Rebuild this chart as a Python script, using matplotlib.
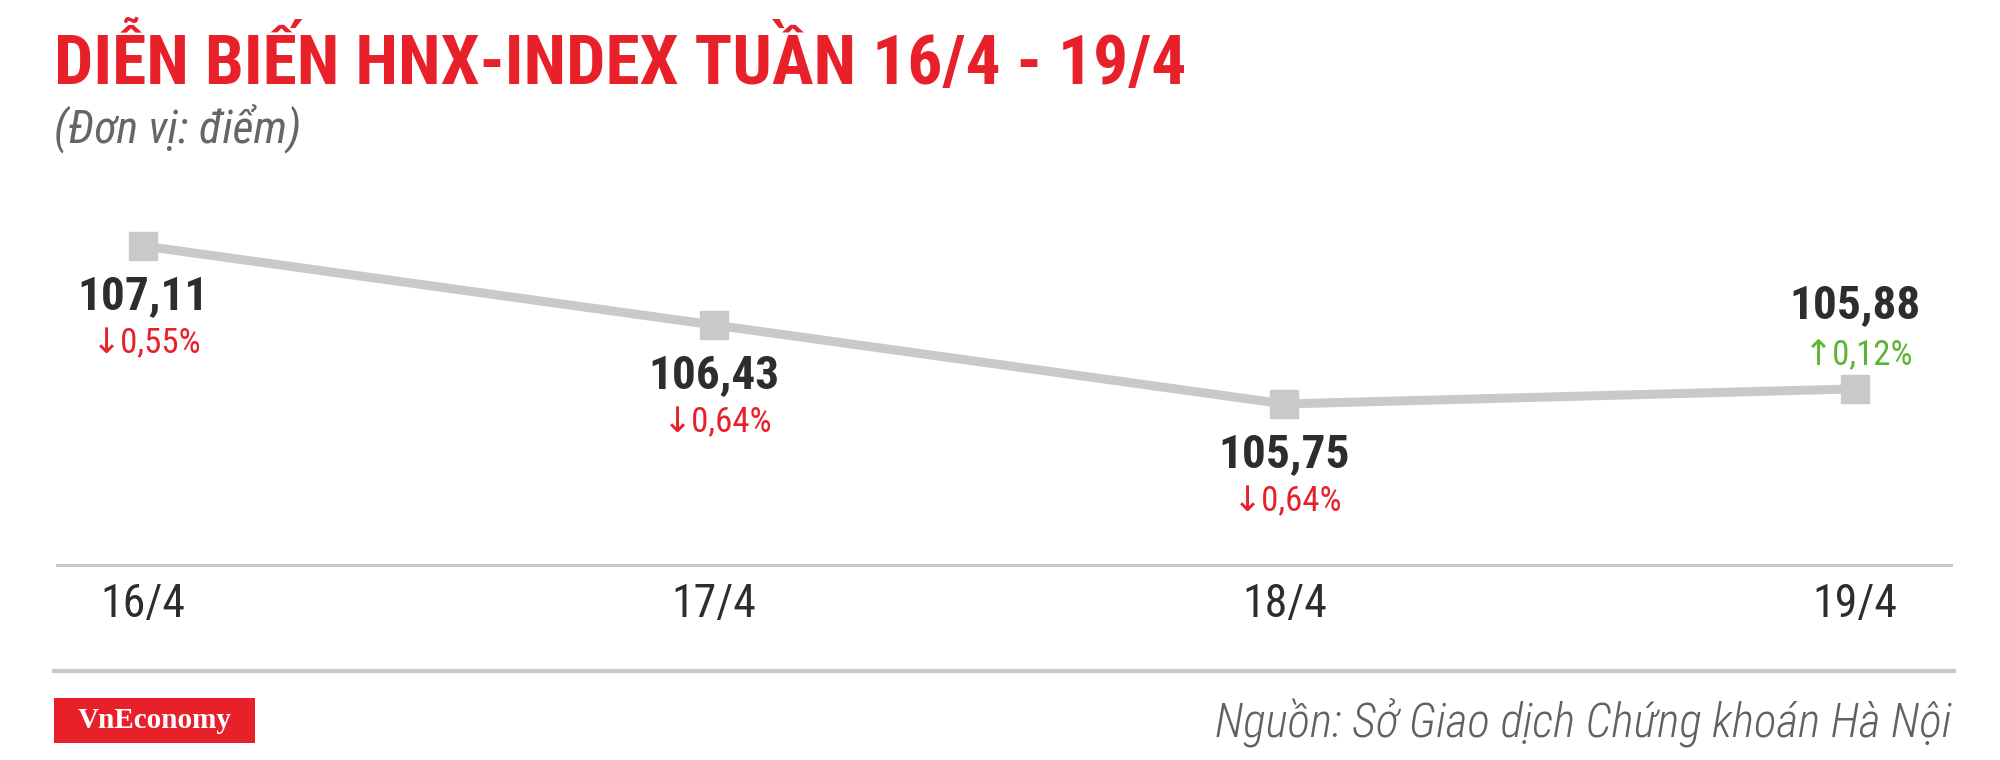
import matplotlib
matplotlib.use('Agg')
import matplotlib.pyplot as plt
from matplotlib import font_manager
from matplotlib.patches import Rectangle

# du lieu HNX-Index tuan 16/4 - 19/4
ngay = ['16/4', '17/4', '18/4', '19/4']
diem = [107.11, 106.43, 105.75, 105.88]
thay_doi = [-0.55, -0.64, -0.64, 0.12]

tieu_de = 'DIỄN BIẾN HNX-INDEX TUẦN 16/4 - 19/4'
don_vi = '(Đơn vị: điểm)'
nguon = 'Nguồn: Sở Giao dịch Chứng khoán Hà Nội'

# chon font hep neu co
co_san = {f.name for f in font_manager.fontManager.ttflist}
HEP = 'Roboto'
for ten in ['Roboto Condensed', 'Barlow Condensed', 'Archivo Narrow']:
    if ten in co_san:
        HEP = ten
        break
FONT = [HEP, 'DejaVu Sans']

DO = '#e8202a'
XANH = '#5db536'
XAM = '#c9c9c9'
CHU = '#2d2d2d'

fig = plt.figure(figsize=(20, 7.6), dpi=100, facecolor='white')
ax = fig.add_axes([0.0285, 0.2566, 0.947, 0.546])

x = list(range(len(ngay)))
ax.plot(x, diem, color=XAM, linewidth=6.5, marker='s', markersize=20,
        markerfacecolor=XAM, markeredgecolor=XAM, solid_capstyle='butt', zorder=2)

ax.set_xlim(-0.151, 3.168)
ax.set_ylim(104.364, 107.936)

for s in ['top', 'left', 'right']:
    ax.spines[s].set_visible(False)
ax.spines['bottom'].set_color(XAM)
ax.spines['bottom'].set_linewidth(2.2)
ax.set_yticks([])
ax.set_xticks(x)
ax.set_xticklabels(ngay, family=FONT, fontsize=33, color=CHU)
ax.tick_params(axis='x', length=0, pad=12)

# nhan gia tri va phan tram
for i, (v, c) in enumerate(zip(diem, thay_doi)):
    txt = f'{v:.2f}'.replace('.', ',')
    pct = ('↑' if c > 0 else '↓') + f'{abs(c):.2f}'.replace('.', ',') + '%'
    mau = XANH if c > 0 else DO
    if c > 0:
        dy_so, dy_pct = 60, 24
    else:
        dy_so, dy_pct = -36, -70
    ax.annotate(txt, (i, v), xytext=(0, dy_so), textcoords='offset points',
                ha='center', va='center', family=FONT, fontsize=34,
                fontweight='bold', color=CHU)
    ax.annotate(pct, (i, v), xytext=(42, dy_pct), textcoords='offset points',
                ha='right', va='center', family=FONT, fontsize=25, color=mau)

# tieu de
fig.text(0.027, 0.918, tieu_de, family=FONT, fontsize=50, fontweight='bold',
         color=DO, ha='left', va='center')
fig.text(0.027, 0.832, don_vi, family=FONT, fontsize=33, style='italic',
         color='#666666', ha='left', va='center')

# duong ke duoi
fig.add_artist(plt.Line2D([0.027, 0.977], [1 - 671 / 760] * 2, transform=fig.transFigure,
                          color=XAM, linewidth=3))

# logo
fig.add_artist(Rectangle((54 / 2000, 1 - 743 / 760), 201 / 2000, 45 / 760,
                         transform=fig.transFigure, facecolor=DO, edgecolor='none'))
fig.text(154.5 / 2000, 1 - 720.5 / 760, 'VnEconomy', family=['Liberation Serif', 'DejaVu Serif'],
         fontsize=21, fontweight='bold', color='white', ha='center', va='center')

fig.text(0.9755, 1 - 722 / 760, nguon, family=FONT, fontsize=34, style='italic',
         fontweight='light', color='#616161', ha='right', va='center')

fig.savefig('out.png', dpi=100, facecolor='white')
